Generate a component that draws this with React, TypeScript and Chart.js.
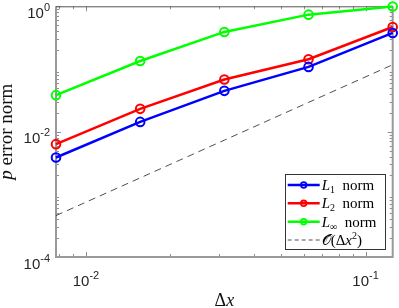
import { useEffect, useRef } from 'react';
import { Chart, registerables } from 'chart.js';

Chart.register(...registerables);

// ---- data ----
const dxValues = [1 / 128, 1 / 64, 1 / 32, 1 / 16, 1 / 8];
const l1Norm = [0.00387, 0.0143, 0.0448, 0.108, 0.376];
const l2Norm = [0.00632, 0.0231, 0.068, 0.143, 0.468];
const lInfNorm = [0.0382, 0.134, 0.39, 0.736, 0.99];
const refOrder2 = [0.000458, 0.00183, 0.00732, 0.0293, 0.117];

const xMin = 1 / 128;
const xMax = 1 / 8;
const yMin = 1e-4;
const yMax = 1;
const yTickExps = [-4, -2, 0];
const xTickExps = [-2, -1];
const yMinorDecades = [-4, -3, -2, -1];
const xMinorDecades = [-3, -2];

const SANS = '"Liberation Sans", Arial, sans-serif';
const SERIF = '"Liberation Serif", "Times New Roman", serif';

type Part = { t: string; font: string; dy?: number };

function drawParts(ctx: CanvasRenderingContext2D, parts: Part[], x: number, y: number, align: 'left' | 'center' | 'right') {
  let w = 0;
  parts.forEach((p) => {
    ctx.font = p.font;
    w += ctx.measureText(p.t).width;
  });
  let cx = align === 'left' ? x : align === 'center' ? x - w / 2 : x - w;
  ctx.textAlign = 'left';
  ctx.textBaseline = 'alphabetic';
  parts.forEach((p) => {
    ctx.font = p.font;
    ctx.fillText(p.t, cx, y + (p.dy || 0));
    cx += ctx.measureText(p.t).width;
  });
  return w;
}

const sup = (e: number) => (e < 0 ? '-' + Math.abs(e) : String(e));

const framePlugin = {
  id: 'frame',
  beforeDatasetsDraw(chart: any) {
    const { ctx, chartArea: a, scales } = chart;
    const xs = scales.x;
    const ys = scales.y;
    ctx.save();
    // ticks
    ctx.strokeStyle = '#8f8f8f';
    ctx.lineWidth = 1;
    const yTick = (v: number, len: number) => {
      const py = Math.round(ys.getPixelForValue(v)) + 0.5;
      ctx.beginPath();
      ctx.moveTo(a.left, py);
      ctx.lineTo(a.left + len, py);
      ctx.moveTo(a.right, py);
      ctx.lineTo(a.right - len, py);
      ctx.stroke();
    };
    const xTick = (v: number, len: number) => {
      const px = Math.round(xs.getPixelForValue(v)) + 0.5;
      ctx.beginPath();
      ctx.moveTo(px, a.bottom);
      ctx.lineTo(px, a.bottom - len);
      ctx.moveTo(px, a.top);
      ctx.lineTo(px, a.top + len);
      ctx.stroke();
    };
    yMinorDecades.forEach((d) => {
      for (let m = 2; m <= 9; m++) yTick(m * Math.pow(10, d), 3);
    });
    yTickExps.forEach((e) => yTick(Math.pow(10, e), 5));
    xMinorDecades.forEach((d) => {
      for (let m = 2; m <= 9; m++) {
        const v = m * Math.pow(10, d);
        if (v >= xMin && v <= xMax) xTick(v, 3);
      }
    });
    xTickExps.forEach((e) => xTick(Math.pow(10, e), 5));

    // box
    ctx.strokeStyle = '#999999';
    ctx.lineWidth = 2;
    ctx.beginPath();
    ctx.moveTo(a.left, a.top);
    ctx.lineTo(a.left, a.bottom);
    ctx.lineTo(a.right, a.bottom);
    ctx.lineTo(a.right, a.top);
    ctx.stroke();
    ctx.strokeStyle = '#555555';
    ctx.lineWidth = 1;
    ctx.beginPath();
    ctx.moveTo(a.left, a.top + 0.5);
    ctx.lineTo(a.right, a.top + 0.5);
    ctx.stroke();

    // tick labels
    ctx.fillStyle = '#262626';
    yTickExps.forEach((e) => {
      const py = ys.getPixelForValue(Math.pow(10, e));
      drawParts(ctx, [
        { t: '10', font: `15px ${SANS}` },
        { t: sup(e), font: `11px ${SANS}`, dy: -6.8 },
      ], a.left - 6, py + 11.5, 'right');
    });
    xTickExps.forEach((e) => {
      const px = xs.getPixelForValue(Math.pow(10, e));
      drawParts(ctx, [
        { t: '10', font: `15px ${SANS}` },
        { t: sup(e), font: `11px ${SANS}`, dy: -6.8 },
      ], px, a.bottom + 28.5, 'center');
    });

    // axis titles
    ctx.fillStyle = '#111111';
    drawParts(ctx, [
      { t: '\u0394', font: `18px ${SERIF}` },
      { t: 'x', font: `italic 18px ${SERIF}` },
    ], (a.left + a.right) / 2, a.bottom + 49, 'center');

    ctx.save();
    ctx.translate(12, (a.top + a.bottom) / 2);
    ctx.rotate(-Math.PI / 2);
    drawParts(ctx, [
      { t: 'p', font: `italic 19px ${SERIF}` },
      { t: ' error norm', font: `19px ${SERIF}` },
    ], 0, 0, 'center');
    ctx.restore();
    ctx.restore();
  },
  afterDraw(chart: any) {
    const { ctx, chartArea: a } = chart;
    const left = a.right - 108;
    const right = a.right - 8;
    const top = a.bottom - 83;
    const bottom = a.bottom - 8;
    ctx.save();
    ctx.fillStyle = '#ffffff';
    ctx.fillRect(left, top, right - left, bottom - top);
    ctx.strokeStyle = '#333333';
    ctx.lineWidth = 1;
    ctx.strokeRect(Math.round(left) + 0.5, Math.round(top) + 0.5, right - left, bottom - top);
    const rows = [11, 29.3, 47.7, 66];
    const ds = chart.data.datasets;
    const subs = ['1', '2', '\u221E'];
    for (let i = 0; i < 4; i++) {
      const ry = top + rows[i];
      const d = ds[i];
      ctx.strokeStyle = d.borderColor;
      if (i < 3) {
        ctx.lineWidth = 2.5;
        ctx.setLineDash([]);
        ctx.beginPath();
        ctx.moveTo(left + 3, ry);
        ctx.lineTo(left + 35, ry);
        ctx.stroke();
        ctx.lineWidth = 1.8;
        ctx.beginPath();
        ctx.arc(left + 19, ry, 2.8, 0, Math.PI * 2);
        ctx.stroke();
        ctx.fillStyle = '#000000';
        drawParts(ctx, [
          { t: 'L', font: `italic 15px ${SERIF}` },
          { t: subs[i], font: `10px ${SERIF}`, dy: 3 },
          { t: '  norm', font: `15px ${SERIF}` },
        ], left + 37, ry + 5, 'left');
      } else {
        ctx.lineWidth = 0.8;
        ctx.setLineDash([4, 3]);
        ctx.beginPath();
        ctx.moveTo(left + 3, ry);
        ctx.lineTo(left + 35, ry);
        ctx.stroke();
        ctx.setLineDash([]);
        ctx.fillStyle = '#000000';
        drawParts(ctx, [
          { t: '\uD835\uDCAA', font: `15px "DejaVu Sans", ${SERIF}` },
          { t: '(\u0394', font: `15px ${SERIF}` },
          { t: 'x', font: `italic 15px ${SERIF}` },
          { t: '2', font: `10px ${SERIF}`, dy: -6 },
          { t: ')', font: `15px ${SERIF}` },
        ], left + 37, ry + 5, 'left');
      }
    }
    ctx.restore();
  },
};

export default function App() {
  const ref = useRef<HTMLCanvasElement | null>(null);
  useEffect(() => {
    document.body.style.margin = '0';
    const canvas = ref.current;
    if (!canvas) return;
    const pts = (ys: number[]) => dxValues.map((x, i) => ({ x, y: ys[i] }));
    const series = (label: string, color: string, ys: number[]) => ({
      label,
      data: pts(ys),
      borderColor: color,
      backgroundColor: 'transparent',
      borderWidth: 2.5,
      pointRadius: 4.3,
      pointBorderWidth: 2,
      pointBackgroundColor: 'transparent',
      pointBorderColor: color,
      clip: false as any,
      tension: 0,
    });
    const chart = new Chart(canvas, {
      type: 'line',
      data: {
        datasets: [
          series('L1 norm', '#0000ff', l1Norm),
          series('L2 norm', '#ff0000', l2Norm),
          series('L\u221E norm', '#00ff00', lInfNorm),
          {
            label: 'O(\u0394x^2)',
            data: pts(refOrder2),
            borderColor: '#222222',
            borderWidth: 0.8,
            borderDash: [7, 5],
            pointRadius: 0,
            backgroundColor: 'transparent',
            tension: 0,
          } as any,
        ],
      },
      options: {
        responsive: false,
        animation: false,
        devicePixelRatio: 1,
        layout: { padding: { left: 0, right: 6, top: 6, bottom: 0 } },
        plugins: { legend: { display: false }, tooltip: { enabled: false } },
        scales: {
          x: {
            type: 'logarithmic',
            min: xMin,
            max: xMax,
            ticks: { display: false },
            grid: { display: false },
            border: { display: false },
            afterFit: (s: any) => {
              s.height = 51;
            },
          },
          y: {
            type: 'logarithmic',
            min: yMin,
            max: yMax,
            ticks: { display: false },
            grid: { display: false },
            border: { display: false },
            afterFit: (s: any) => {
              s.width = 56;
            },
          },
        },
      },
      plugins: [framePlugin],
    });
    return () => chart.destroy();
  }, []);
  return <canvas ref={ref} width={399} height={308} />;
}
